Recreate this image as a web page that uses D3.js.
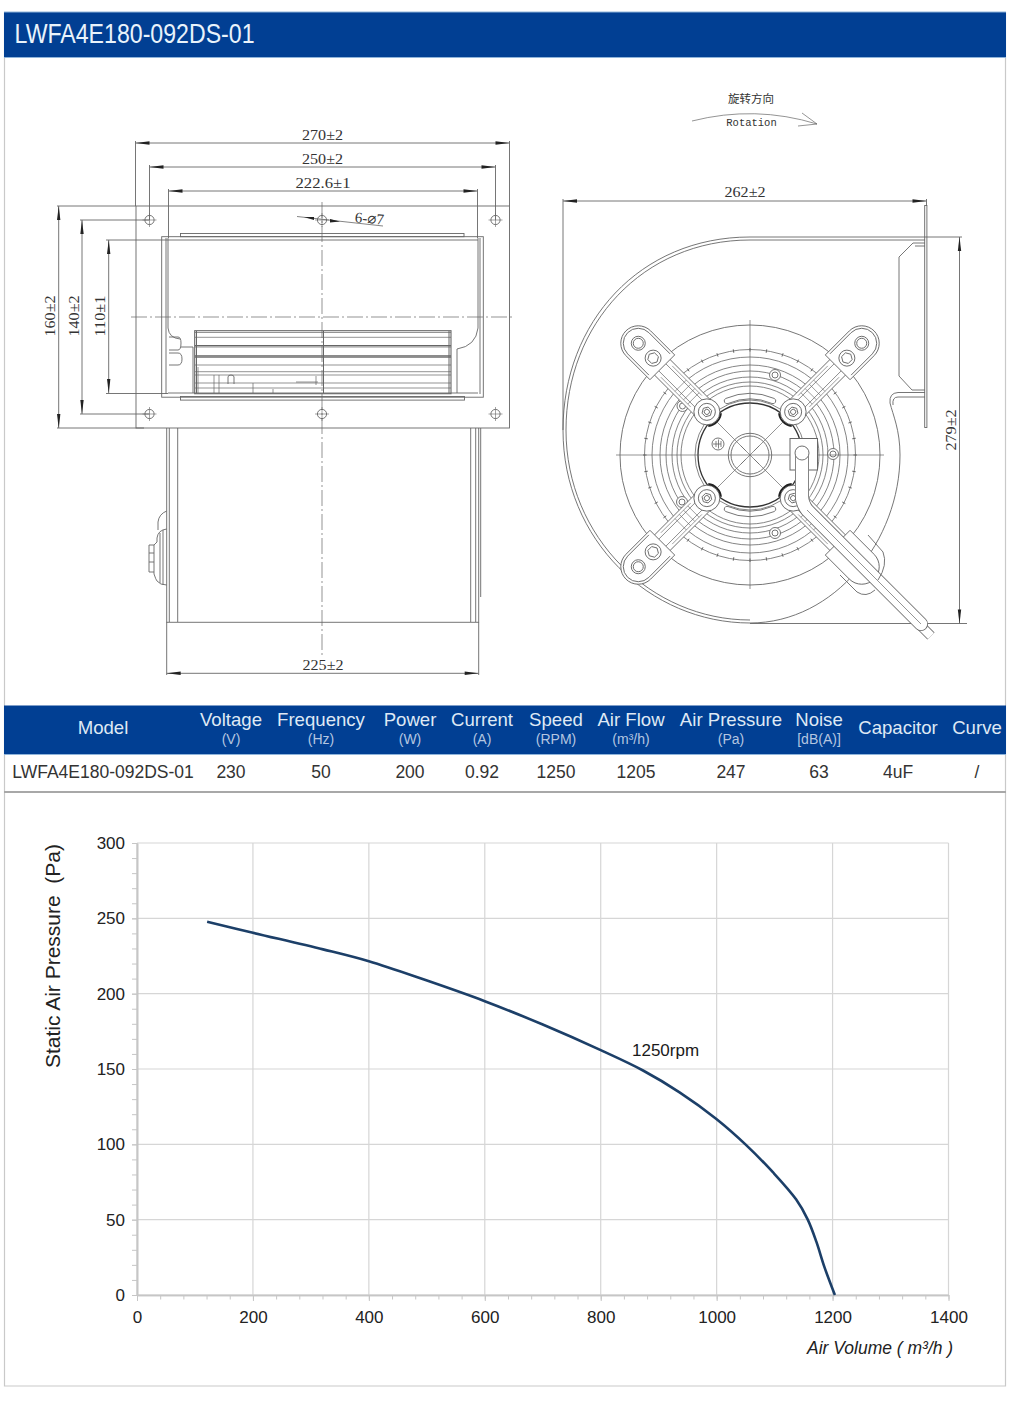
<!DOCTYPE html>
<html><head><meta charset="utf-8">
<script src="https://cdn.jsdelivr.net/npm/d3@7"></script>
<style>
html,body{margin:0;padding:0;background:#fff}
svg{display:block}
.sans{font-family:"Liberation Sans",Arial,sans-serif}
.dim{font-family:"Liberation Serif",serif;font-size:15px;fill:#333}
</style></head><body>
<svg id="c" width="1010" height="1405" xmlns="http://www.w3.org/2000/svg"></svg>
<script>
// ---- chart data ----
const airVolume = [121,200,321,400,494,600,700,800,873,936,999,1051,1097,1137,1157,1172,1186,1204];
const airPressure = [247.7,240.4,229.4,221.5,209.5,195,179.5,162.5,149,134.5,117,99.5,81.5,63.5,50.2,35.4,18.5,0];
const xTicks = [0,200,400,600,800,1000,1200,1400];
const yTicks = [0,50,100,150,200,250,300];
const xMinor = d3.range(0,1401,40);
const yMinor = d3.range(0,301,10);
// ---- spec table ----
const colNames = ["Model","Voltage","Frequency","Power","Current","Speed","Air Flow","Air Pressure","Noise","Capacitor","Curve"];
const colUnits = ["","(V)","(Hz)","(W)","(A)","(RPM)","(m³/h)","(Pa)","[dB(A)]","",""];
const colValues = ["LWFA4E180-092DS-01","230","50","200","0.92","1250","1205","247","63","4uF","/"];
const colHeadX = [103,231,321,410,482,556,631,731,819,898,977];
const colValX = [103,231,321,410,482,556,636,731,819,898,977];

const svg = d3.select("#c");
const BLUE="#013f93", INK="#666";

// ---- page frame ----
const page = svg.append("g");
page.append("path").attr("d","M4.5,12V1386H1005.5V12").attr("fill","none").attr("stroke","#c9c9c9").attr("stroke-width",1.2);
page.append("rect").attr("x",4).attr("y",12).attr("width",1002).attr("height",45.5).attr("fill",BLUE);
page.append("path").attr("d","M4,12H1006M4,57.5H1006").attr("stroke","#8fb4da").attr("stroke-width",1);
page.append("text").attr("class","sans").attr("x",14.5).attr("y",43).attr("font-size",27).attr("fill","#e9f3fb")
  .attr("textLength",240).attr("lengthAdjust","spacingAndGlyphs").text("LWFA4E180-092DS-01");

// ---- table ----
const tb = svg.append("g").attr("class","sans");
tb.append("rect").attr("x",4).attr("y",705.5).attr("width",1002).attr("height",48.5).attr("fill",BLUE);
tb.append("path").attr("d","M4,754.5H1006").attr("stroke","#8fb4da").attr("stroke-width",1);
tb.append("path").attr("d","M4,792H1006").attr("stroke","#a8a8a8").attr("stroke-width",1.8);
colNames.forEach((n,i)=>{
  const two = colUnits[i]!=="";
  tb.append("text").attr("x",colHeadX[i]).attr("y",two?726:734).attr("text-anchor","middle")
    .attr("font-size",18.6).attr("fill","#dfe9f5").text(n);
  if(two) tb.append("text").attr("x",colHeadX[i]).attr("y",744).attr("text-anchor","middle")
    .attr("font-size",14).attr("fill","#b4c6e0").text(colUnits[i]);
  tb.append("text").attr("x",colValX[i]).attr("y",778).attr("text-anchor","middle")
    .attr("font-size",i===0?17.5:17.5).attr("fill","#333").text(colValues[i]);
});

// ---- drawing helpers ----
const draw = svg.append("g").attr("fill","none").attr("stroke",INK).attr("stroke-width",0.9);
function L(p,x1,y1,x2,y2,w){const l=p.append("line").attr("x1",x1).attr("y1",y1).attr("x2",x2).attr("y2",y2);if(w)l.attr("stroke-width",w);return l;}
function C(p,x,y,r,fill){return p.append("circle").attr("cx",x).attr("cy",y).attr("r",r).attr("fill",fill||"none");}
function P(p,d,fill){return p.append("path").attr("d",d).attr("fill",fill||"none");}
function R(p,x,y,w,h,fill){return p.append("rect").attr("x",x).attr("y",y).attr("width",w).attr("height",h).attr("fill",fill||"none");}
function arrowH(p,x,y,dir){P(p,`M${x},${y}L${x+dir*14},${y-1.7}V${y+1.7}Z`,"#222").attr("stroke","none");}
function arrowV(p,x,y,dir){P(p,`M${x},${y}L${x-1.7},${y+dir*14}H${x+1.7}Z`,"#222").attr("stroke","none");}
function dimH(p,x1,x2,y){L(p,x1,y,x2,y);arrowH(p,x1,y,1);arrowH(p,x2,y,-1);}
function dimV(p,x,y1,y2){L(p,x,y1,x,y2);arrowV(p,x,y1,1);arrowV(p,x,y2,-1);}
function dimText(x,y,t,len,rot){
  const e=svg.append("text").attr("class","dim").attr("text-anchor","middle").attr("textLength",len).attr("lengthAdjust","spacingAndGlyphs").text(t);
  if(rot) e.attr("transform",`translate(${x},${y}) rotate(${rot})`); else e.attr("x",x).attr("y",y);
  return e;
}
const CL="16 3 2 3";

// ---- front view ----
const fv = draw.append("g");
R(fv,136,206,373.5,222);
[149.5,322,495.5].forEach(x=>[220,414].forEach(y=>{
  C(fv,x,y,4.6);L(fv,x-7,y,x+7,y,.6);L(fv,x,y-7,x,y+7,.6);
}));
// horizontal dimensions
dimH(fv,135.5,509.5,143); L(fv,135.5,141,135.5,206); L(fv,509.5,141,509.5,206);
dimH(fv,149.5,495.5,167); L(fv,149.5,165,149.5,220); L(fv,495.5,165,495.5,220);
dimH(fv,168.5,477.5,191); L(fv,168.5,189,168.5,238); L(fv,477.5,189,477.5,238);
dimText(322.5,140,"270±2",41);dimText(322.5,164,"250±2",41);dimText(323,188,"222.6±1",55);
// vertical dimensions
dimV(fv,58.7,206,428); L(fv,57,206,136,206); L(fv,57,428,144,428);
dimV(fv,82,220,414); L(fv,80,220,149,220); L(fv,80,414,149,414);
dimV(fv,108.7,240,393); L(fv,106,240,168,240); L(fv,106,393.5,168,393.5);
dimText(55,316,"160±2",41,-90);dimText(79,316,"140±2",41,-90);dimText(105,316,"110±1",41,-90);
// 6-phi7 leader
L(fv,297,216.5,383,226,.8);
P(fv,"M304,217L314,217V220Z","#222").attr("stroke","none");
P(fv,"M340,221.5L330,219V222.5Z","#222").attr("stroke","none");
svg.append("text").attr("class","dim").attr("transform","translate(369,223.5) rotate(5)").attr("text-anchor","middle").text("6-⌀7");
// housing
R(fv,161.7,236.7,321.6,160.5);
L(fv,168,240,478,240);L(fv,168,393,478,393);
R(fv,180.5,233.5,283.5,3.2);R(fv,180.5,396.5,284,3.6);
P(fv,"M168,238V328Q169,338 180,339");
P(fv,"M478,238V328Q476,346 457,349V393");
P(fv,"M166,238V394M480,238V394");
P(fv,"M169,337H178Q181,337 181,343Q181,350 178,350H169M169,353H178Q182,353 182,359Q182,365 178,365H169");
P(fv,"M181,347H193V393");
// fan wheel
R(fv,194.7,330.7,256.3,63).attr("stroke-width",1.1);
[332.5,337.3,345.7,347,356,357.5,365,371.7,375,383,388].forEach(y=>L(fv,195,y,451,y,y===345.7||y===356?1.3:.7));
L(fv,323.5,331,323.5,393,1);L(fv,196.5,331,196.5,393,1);L(fv,449,331,449,393,1);
[[198,367,198,393],[214,375,214,393],[219,375,219,393],[253,383,253,393],[273,389,273,393],[316,376,316,385],[296,382,318,382]].forEach(a=>L(fv,a[0],a[1],a[2],a[3],.7));
P(fv,"M228,384V377Q228,375 231,375Q234,375 234,377V384");
// centre lines
L(fv,322,202,322,658).attr("stroke-dasharray",CL).attr("stroke-width",.7);
L(fv,131,317,513,317).attr("stroke-dasharray",CL).attr("stroke-width",.7);

// ---- lower view ----
const lv = draw.append("g");
P(lv,"M166.7,428V622.3H478.7V428");
L(lv,169.3,428,169.3,622);L(lv,177.7,428,177.7,622);
L(lv,470.7,428,470.7,622);L(lv,475.7,428,475.7,622);L(lv,480.7,428,480.7,597);
dimH(lv,166.7,478.7,673.3);L(lv,166.7,622,166.7,675);L(lv,478.7,622,478.7,675);
dimText(323,670,"225±2",41);
// terminal knob
P(lv,"M166.7,511Q159,514 158,522V530M166.7,529Q158,530 157,538V542L154,545V574Q156,580 157,581Q160,585 166.7,585");
P(lv,"M154,545H149V572H154M149,553H154M149,562H154M160,533V583M163,530V585");

// ---- side view ----
const sv = draw.append("g");
const cx=750, cy=455;
dimH(sv,563,926.5,201);L(sv,563,199,563,430);L(sv,926.5,199,926.5,206);
dimText(745,197,"262±2",41);
dimV(sv,959.5,237,623.5);L(sv,925,237,962,237);L(sv,750,623.5,967,623.5);
dimText(956,430,"279±2",41,-90);
// scroll
P(sv,"M750,237C640,237 563,322 563,430C563,540 650,623 750,623C835,623 900,540 900,455C900,430 893,415 890,403Q889,393 898,392.5H925");
P(sv,"M750,240C643,240 566,324 566,430C566,538 652,620 750,620");
P(sv,"M893,405Q892,397 898,397H925");
L(sv,750,237,925,237);L(sv,750,240,925,240);
R(sv,924.7,205.5,2.2,222);
P(sv,"M925,243H913L899,257V376L912,390H925");
P(sv,"M925,246H915");
// wheel rings
C(sv,cx,cy,130);
[105.5,98,90,84,78,73,69,55].forEach(r=>C(sv,cx,cy,r,"none").attr("stroke-width",.8));
d3.range(0,360,9).forEach(a=>{
  const t=a*Math.PI/180;
  L(sv,cx+103.5*Math.cos(t),cy+103.5*Math.sin(t),cx+107*Math.cos(t),cy+107*Math.sin(t),1);
});
// slots
const slot=d3.arc().innerRadius(56).outerRadius(61.5).cornerRadius(2.7);
[[-Math.PI/7,Math.PI/7],[Math.PI-Math.PI/7,Math.PI+Math.PI/7]].forEach(a=>
  P(sv,slot({startAngle:a[0],endAngle:a[1]}),"#fff").attr("transform",`translate(${cx},${cy})`));
// small holes
[[775,375],[833,454],[775,533],[682.5,406],[682,502]].forEach(h=>{C(sv,h[0],h[1],5.5,"#fff");C(sv,h[0],h[1],3);});
// motor opening
C(sv,cx,cy,52,"#fff").attr("stroke","#333").attr("stroke-width",1.3);
// axis lines
L(sv,616,455,884,455,.7);L(sv,750,320,750,589,.7);
[45,135,225,315].forEach(a=>{const t=a*Math.PI/180;L(sv,cx+6*Math.cos(t),cy+6*Math.sin(t),cx+46*Math.cos(t),cy+46*Math.sin(t),.7);});
// hub
C(sv,cx,cy,21.7,"none");C(sv,cx,cy,19,"none");
[45,135,225,315].forEach(a=>{const t=a*Math.PI/180;L(sv,cx,cy,cx+13*Math.cos(t),cy+13*Math.sin(t),.7);});
// earth mark
C(sv,718,444,6,"none");L(sv,716,441,716,447,.8);L(sv,718.5,439.5,718.5,448.5,.8);L(sv,721,441,721,447,.8);L(sv,713,444,721,444,.8);
// arms
function hex(x,r){return d3.range(6).map(i=>{const t=i*Math.PI/3;return [x+r*Math.cos(t),r*Math.sin(t)].join(",");}).join(" ");}
[[-135,true],[-45,true],[135,true],[45,false]].forEach(([ang,holes])=>{
  const g=sv.append("g").attr("transform",`translate(${cx},${cy}) rotate(${ang})`);
  R(g,61,-11,64,22,"#fff");
  L(g,66,-5,124,-5,.7);L(g,66,5,124,5,.7);L(g,76,-8,118,-8,.6);L(g,76,8,118,8,.6);
  [80,86,92,98].forEach(x=>L(g,x,-8,x,8,.6));
  P(g,"M124,-17.5H158A17.5,17.5 0 0 1 158,17.5H124Z","#fff");
  if(holes){
    P(g,"M128,-15H158A15,15 0 0 1 158,15H128");
    C(g,158,0,7);C(g,158,0,5);
    C(g,137,0,8);g.append("polygon").attr("points",hex(137,5.5));
  }
  C(g,61,0,13,"#fff");C(g,61,0,8.5);g.append("polygon").attr("points",hex(61,5));C(g,61,0,2.6);
  P(g,"M50,-9A14.2,14.2 0 0 0 50,9").attr("stroke","#222").attr("stroke-width",1.8);
});
// cable
R(sv,790,438.5,27.5,31.5,"#fff").attr("stroke-width",1);
P(sv,"M918,623L931,636").attr("stroke-width",10).attr("stroke-linecap","butt");
P(sv,"M918,623L931,636").attr("stroke-width",8.4).attr("stroke","#fff");
const cable="M802,453V496Q802,503 807,510L921,624";
P(sv,cable).attr("stroke-width",14).attr("stroke-linecap","round");
P(sv,cable).attr("stroke-width",12.4).attr("stroke","#fff").attr("stroke-linecap","round");
P(sv,"M807,510L921,624").attr("stroke-width",.7);
C(sv,802,453,7,"#fff");
// clamp
P(sv,"M840,575L857,592Q866,598 875,590M868,535L883,552Q888,565 878,580").attr("stroke-width",.9);
// rotation mark
svg.append("text").attr("x",751).attr("y",103).attr("text-anchor","middle").attr("font-family",'"Noto Sans CJK SC"').attr("font-size",11.5).attr("fill","#333").text("旋转方向");
svg.append("text").attr("x",751.5).attr("y",125.5).attr("text-anchor","middle").attr("font-family",'"Liberation Mono"').attr("font-size",10.5).attr("fill","#333").text("Rotation");
P(sv,"M692,121Q755,105 817,124L802,113M817,124L798,126").attr("stroke-width",.7);

// ---- performance chart ----
const x=d3.scaleLinear().domain([0,1400]).range([137,948.5]);
const y=d3.scaleLinear().domain([0,300]).range([1295,843]);
const ch=svg.append("g").attr("class","sans");
const GRID="#d6d6d6";
ch.append("g").selectAll("line").data(xTicks).join("line").attr("x1",d=>x(d)).attr("x2",d=>x(d)).attr("y1",y(0)).attr("y2",y(300)).attr("stroke",GRID).attr("stroke-width",1.2);
ch.append("g").selectAll("line").data(yTicks).join("line").attr("x1",x(0)).attr("x2",x(1400)).attr("y1",d=>y(d)).attr("y2",d=>y(d)).attr("stroke",GRID).attr("stroke-width",1.2);
function styleAxis(g){g.selectAll("path").attr("stroke","#c6c6c6").attr("stroke-width",1.6);g.selectAll("line").attr("stroke","#c6c6c6").attr("stroke-width",1);}
const xMinorAxis=ch.append("g").attr("transform",`translate(0,${y(0)})`).call(d3.axisBottom(x).tickValues(xMinor).tickSize(4.5).tickSizeOuter(0).tickFormat(""));
styleAxis(xMinorAxis);
const yMinorAxis=ch.append("g").attr("transform",`translate(${x(0)},0)`).call(d3.axisLeft(y).tickValues(yMinor).tickSize(5).tickSizeOuter(0).tickFormat(""));
styleAxis(yMinorAxis);
const xa=ch.append("g").attr("transform",`translate(0,${y(0)})`).call(d3.axisBottom(x).tickValues(xTicks).tickFormat(d3.format("d")).tickSize(6).tickPadding(10).tickSizeOuter(0));
styleAxis(xa);xa.selectAll("text").attr("font-size",17).attr("font-family",'"Liberation Sans"').attr("fill","#222");
const ya=ch.append("g").attr("transform",`translate(${x(0)},0)`).call(d3.axisLeft(y).tickValues(yTicks).tickSize(5).tickPadding(7).tickSizeOuter(0));
styleAxis(ya);ya.selectAll("text").attr("font-size",17).attr("font-family",'"Liberation Sans"').attr("fill","#222");
const curve=d3.line().x((d,i)=>x(airVolume[i])).y(d=>y(d)).curve(d3.curveCatmullRom.alpha(0.5));
ch.append("path").attr("d",curve(airPressure)).attr("fill","none").attr("stroke","#1c3f68").attr("stroke-width",2.6);
ch.append("text").attr("x",632).attr("y",1056).attr("font-size",17).attr("fill","#1a1a1a").text("1250rpm");
ch.append("text").attr("transform","translate(60,956) rotate(-90)").attr("text-anchor","middle").attr("font-size",21).attr("fill","#222").style("white-space","pre").text("Static Air Pressure  (Pa)");
ch.append("text").attr("x",807).attr("y",1354).attr("font-size",17.5).attr("font-style","italic").attr("fill","#222").text("Air Volume ( m³/h )");
</script>
</body></html>
